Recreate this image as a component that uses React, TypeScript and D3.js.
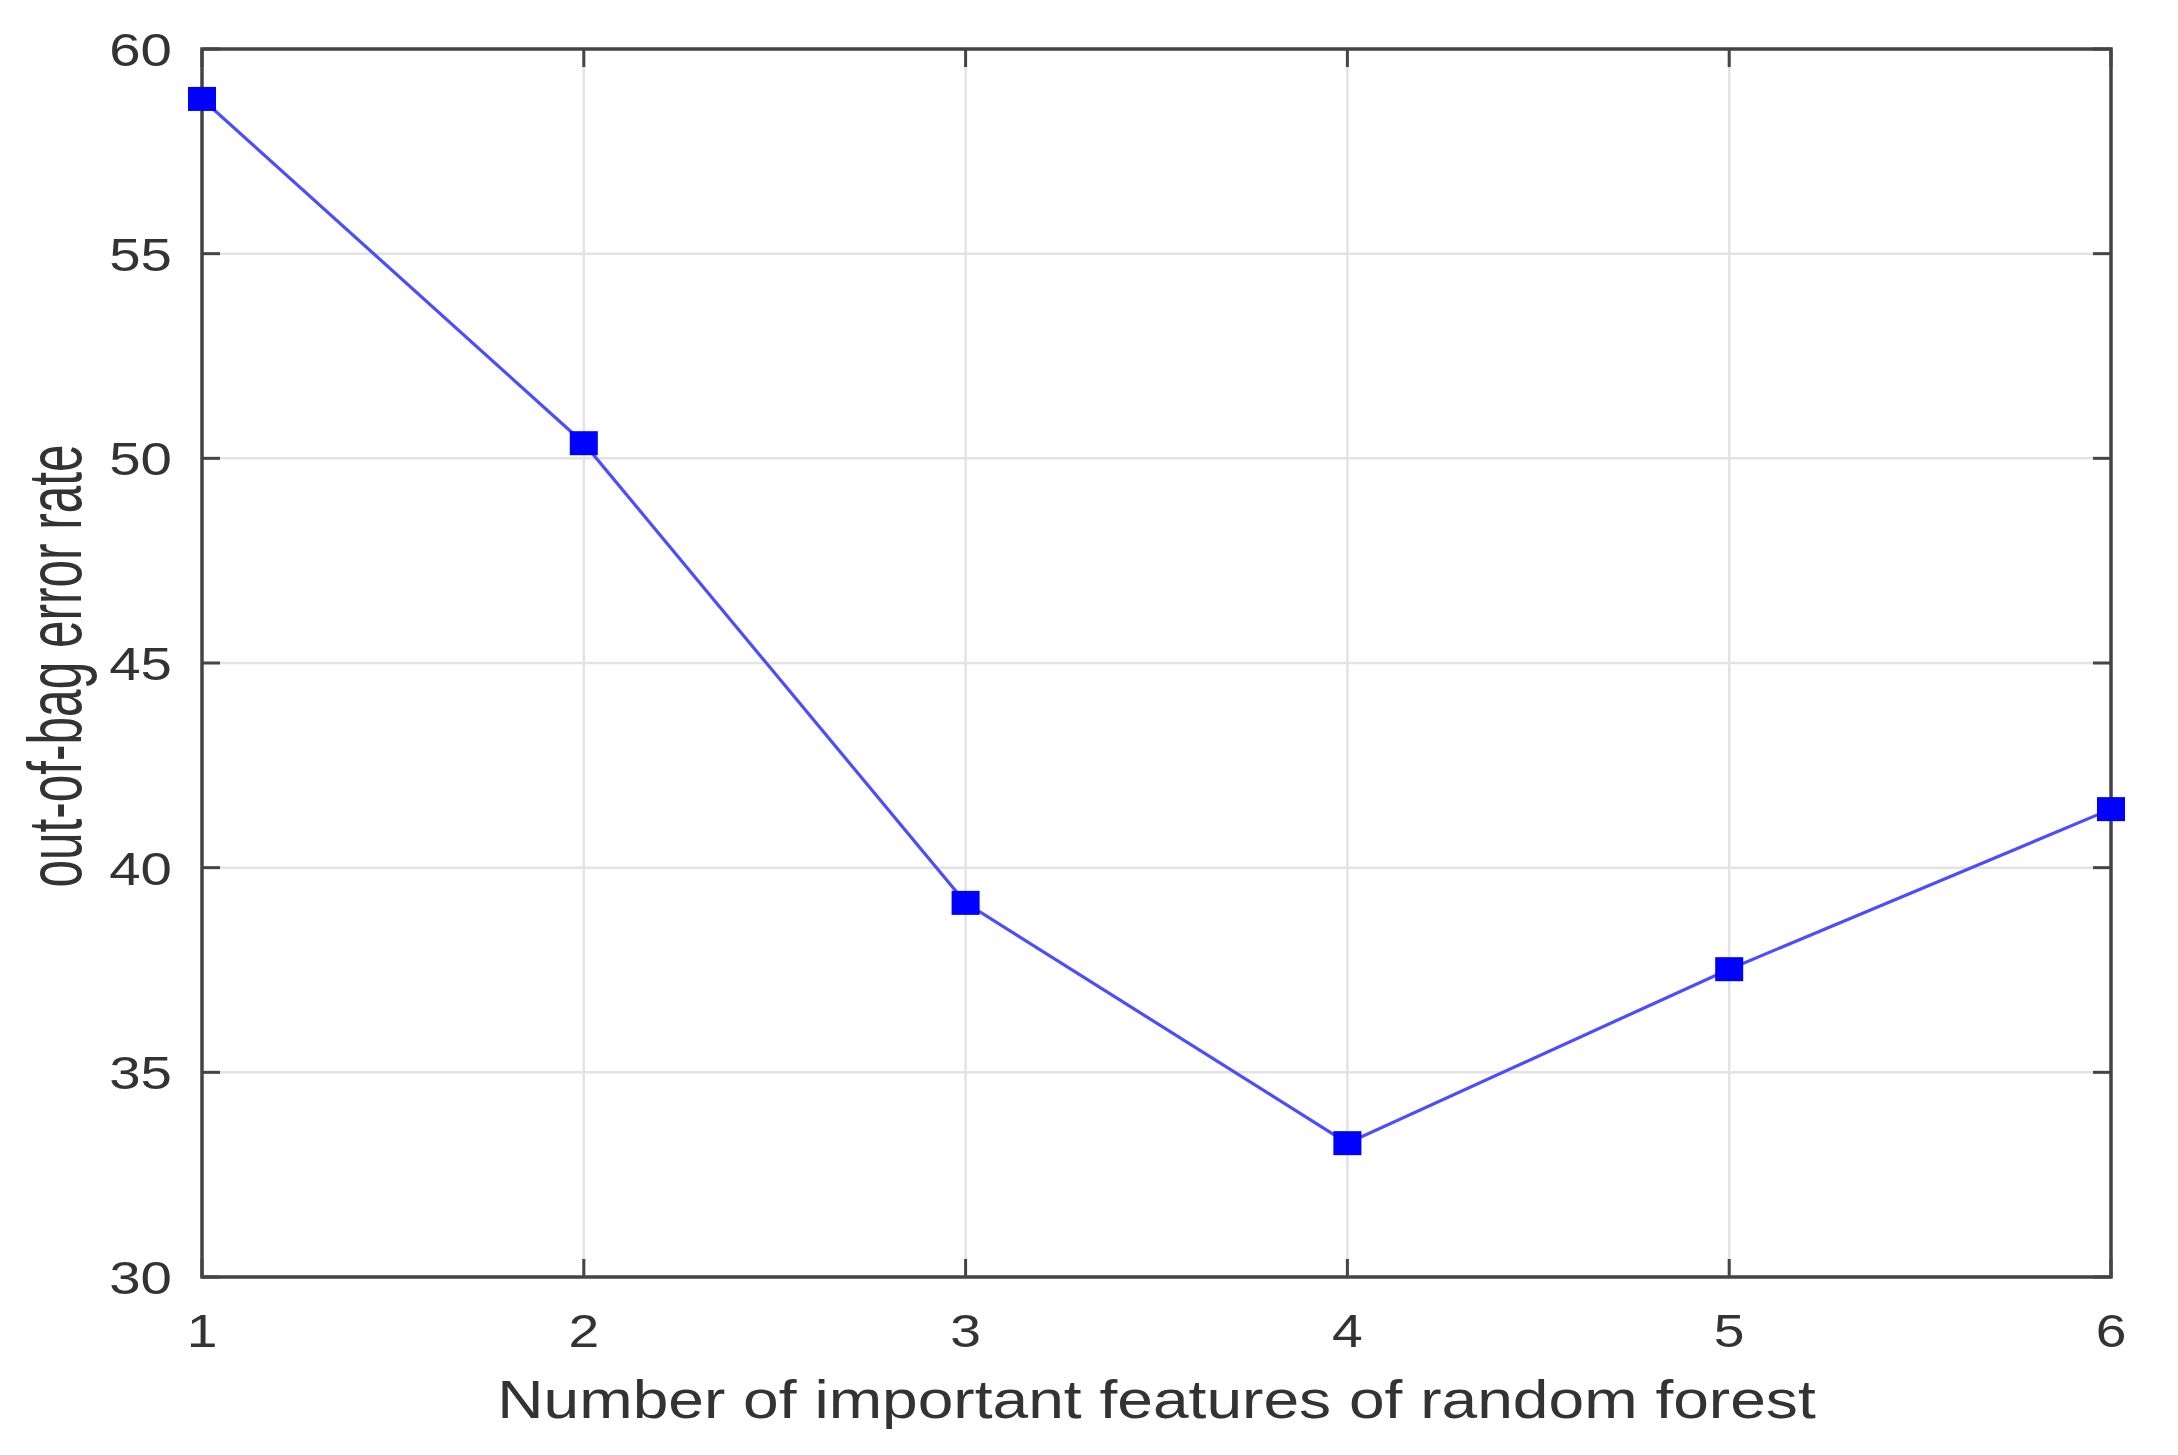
import React from "react";
import * as d3 from "d3";

const features = [1, 2, 3, 4, 5, 6];
const errorRate = [58.78, 50.37, 39.14, 33.27, 37.52, 41.43];
const yTicks = [30, 35, 40, 45, 50, 55, 60];
const xTicks = [1, 2, 3, 4, 5, 6];
const xLabel = "Number of important features of random forest";
const yLabel = "out-of-bag error rate";

const W = 2178;
const H = 1455;
const L = 202, R = 2111, T = 49, B = 1277;
const SX = 1.2;

export default function App() {
  const x = d3.scaleLinear().domain([1, 6]).range([L, R]);
  const y = d3.scaleLinear().domain([30, 60]).range([B, T]);
  const line = d3.line<number>().x((_, i) => x(features[i])).y((d) => y(d));
  const font = "'Liberation Sans', Arial, sans-serif";
  const tickLen = 18;
  const axisColor = "#444";
  const textColor = "#333";

  return (
    <svg width={W} height={H} style={{ position: "absolute", left: 0, top: 0, background: "#fff" }}>
      <rect x={0} y={0} width={W} height={H} fill="#fff" />
      {/* grid */}
      {xTicks.map((t) => (
        <line key={"gx" + t} x1={x(t)} x2={x(t)} y1={T} y2={B} stroke="#e3e3e3" strokeWidth={2.5} />
      ))}
      {yTicks.map((t) => (
        <line key={"gy" + t} x1={L} x2={R} y1={y(t)} y2={y(t)} stroke="#e3e3e3" strokeWidth={2.5} />
      ))}
      {/* ticks */}
      {xTicks.map((t) => (
        <g key={"tx" + t}>
          <line x1={x(t)} x2={x(t)} y1={B} y2={B - tickLen} stroke={axisColor} strokeWidth={3} />
          <line x1={x(t)} x2={x(t)} y1={T} y2={T + tickLen} stroke={axisColor} strokeWidth={3} />
        </g>
      ))}
      {yTicks.map((t) => (
        <g key={"ty" + t}>
          <line x1={L} x2={L + tickLen} y1={y(t)} y2={y(t)} stroke={axisColor} strokeWidth={3} />
          <line x1={R} x2={R - tickLen} y1={y(t)} y2={y(t)} stroke={axisColor} strokeWidth={3} />
        </g>
      ))}
      {/* box */}
      <rect x={L} y={T} width={R - L} height={B - T} fill="none" stroke={axisColor} strokeWidth={3.5} />
      {/* tick labels */}
      {yTicks.map((t) => (
        <text
          key={"ly" + t}
          transform={`translate(172,${y(t)}) scale(${SX},1)`}
          textAnchor="end"
          dy="0.36em"
          fontFamily={font}
          fontSize={47}
          fill={textColor}
        >
          {t}
        </text>
      ))}
      {xTicks.map((t) => (
        <text
          key={"lx" + t}
          transform={`translate(${x(t)},1347) scale(${SX},1)`}
          textAnchor="middle"
          fontFamily={font}
          fontSize={46}
          fill={textColor}
        >
          {t}
        </text>
      ))}
      {/* axis labels */}
      <text
        transform={`translate(${(L + R) / 2},1418) scale(1.21,1)`}
        textAnchor="middle"
        fontFamily={font}
        fontSize={53}
        fill={textColor}
      >
        {xLabel}
      </text>
      <text
        transform={`translate(81,666) scale(1.52,1) rotate(-90)`}
        textAnchor="middle"
        fontFamily={font}
        fontSize={49.5}
        fill={textColor}
      >
        {yLabel}
      </text>
      {/* series */}
      <path d={line(errorRate) || ""} fill="none" stroke="#4d4dff" strokeWidth={3.2} />
      {errorRate.map((v, i) => (
        <rect
          key={"m" + i}
          x={x(features[i]) - 14}
          y={y(v) - 12}
          width={28}
          height={24}
          fill="#0000ff"
        />
      ))}
    </svg>
  );
}
